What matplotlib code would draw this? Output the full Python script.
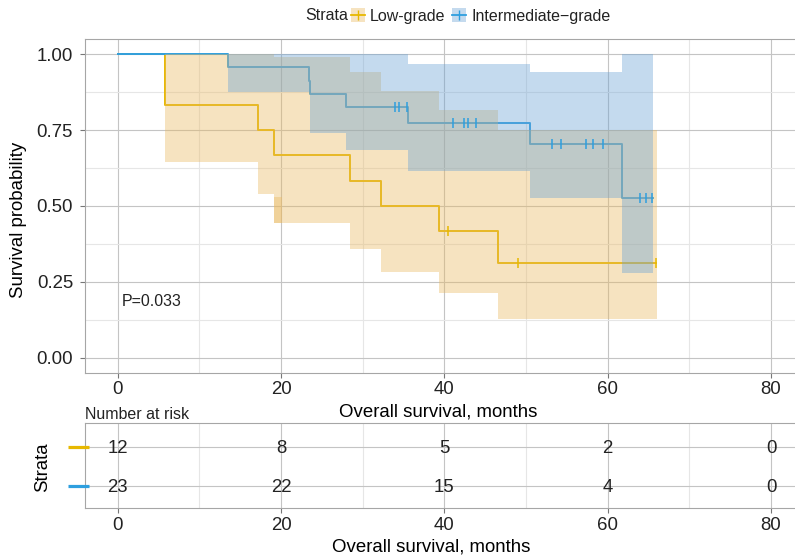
import numpy as np
import matplotlib.pyplot as plt
from matplotlib.patches import Patch
from matplotlib.lines import Line2D
from matplotlib.legend_handler import HandlerTuple
from matplotlib.transforms import blended_transform_factory

plt.rcParams['font.family'] = ['Liberation Sans', 'DejaVu Sans']
plt.rcParams['text.color'] = '#222222'

# Kaplan-Meier steps (months, survival)
low_t = [0, 5.85, 17.2, 19.1, 28.4, 32.3, 39.3, 46.6]
low_s = [1.0, 0.833, 0.75, 0.667, 0.583, 0.5, 0.417, 0.3125]
low_end = 65.9
low_cens_t = [40.4, 49.0, 65.9]

low_ci_t = [5.85, 17.2, 19.1, 28.4, 32.3, 39.3, 46.6]
low_ci_lo = [0.646, 0.539, 0.445, 0.358, 0.282, 0.212, 0.129]
low_ci_hi = [1.0, 1.0, 0.99, 0.94, 0.878, 0.815, 0.75]
low_ci_end = 66.0
# small overlapping piece of the ribbon just after 19 months
low_patch_t = [19.1, 20.1]
low_patch_lo = [0.445, 0.445]
low_patch_hi = [0.531, 0.531]

mid_t = [0, 13.45, 23.4, 23.6, 28.0, 35.5, 50.5, 61.8]
mid_s = [1.0, 0.957, 0.913, 0.870, 0.826, 0.774, 0.703, 0.527]
mid_end = 65.6
mid_cens_t = [34.0, 34.5, 35.4, 41.1, 42.4, 42.9, 43.9,
              53.2, 54.3, 57.3, 58.2, 59.4, 64.0, 64.7, 65.4]

mid_ci_t = [13.45, 23.6, 28.0, 35.5, 50.5, 61.8]
mid_ci_lo = [0.876, 0.741, 0.684, 0.616, 0.525, 0.279]
mid_ci_hi = [1.0, 1.0, 1.0, 0.969, 0.942, 1.0]
mid_ci_end = 65.5

risk_t = [0, 20, 40, 60, 80]
risk_low = [12, 8, 5, 2, 0]
risk_mid = [23, 22, 15, 4, 0]

ORANGE = '#E7B800'
BLUE = '#2E9FDF'
ORANGE_BAND = '#E9B962'
BLUE_BAND = '#6CA3D5'
BAND_A = 0.4


def step_value(t, s, at):
    idx = np.searchsorted(t, at, side='right') - 1
    return np.array(s)[idx]


def style_axes(ax):
    ax.set_xlim(-4, 84)
    ax.set_xticks([0, 20, 40, 60, 80])
    ax.set_xticks([10, 30, 50, 70], minor=True)
    ax.grid(which='major', color='#C4C4C4', lw=0.8)
    ax.grid(which='minor', color='#E6E6E6', lw=0.8)
    ax.set_axisbelow(True)
    for sp in ax.spines.values():
        sp.set_color('#A6A6A6')
        sp.set_linewidth(0.8)
    ax.tick_params(which='major', length=3.6, width=0.8, color='#777777',
                   labelsize=13.4, labelcolor='#222222')
    ax.tick_params(axis='x', pad=2.5)
    ax.tick_params(which='minor', length=0)


fig = plt.figure(figsize=(7.95, 5.58), dpi=100)
ax = fig.add_axes([85 / 795, 1 - 373 / 558, 718.7 / 795, 334 / 558])
ax2 = fig.add_axes([85 / 795, 1 - 508.3 / 558, 718.7 / 795, 85 / 558])

# survival curves (ribbons sit on top of the lines, like the original)
ax.step(low_t + [low_end], low_s + [low_s[-1]], where='post', color=ORANGE, lw=1.4, zorder=2)
ax.step(mid_t + [mid_end], mid_s + [mid_s[-1]], where='post', color=BLUE, lw=1.4, zorder=2)

ax.fill_between(low_ci_t + [low_ci_end], low_ci_lo + [low_ci_lo[-1]], low_ci_hi + [low_ci_hi[-1]],
                step='post', color=ORANGE_BAND, alpha=BAND_A, lw=0, zorder=3)
ax.fill_between(low_patch_t, low_patch_lo, low_patch_hi, step='post',
                color=ORANGE_BAND, alpha=BAND_A, lw=0, zorder=3)
ax.fill_between(mid_ci_t + [mid_ci_end], mid_ci_lo + [mid_ci_lo[-1]], mid_ci_hi + [mid_ci_hi[-1]],
                step='post', color=BLUE_BAND, alpha=BAND_A, lw=0, zorder=3)

ax.plot(low_cens_t, step_value(low_t, low_s, low_cens_t), ls='none', marker='|',
        ms=6.5, mew=1.1, color=ORANGE, zorder=4)
ax.plot(mid_cens_t, step_value(mid_t, mid_s, mid_cens_t), ls='none', marker='|',
        ms=6.5, mew=1.1, color=BLUE, zorder=4)

style_axes(ax)
ax.set_ylim(-0.05, 1.05)
ax.set_yticks([0, 0.25, 0.5, 0.75, 1.0])
ax.set_yticklabels(['0.00', '0.25', '0.50', '0.75', '1.00'])
ax.set_yticks([0.125, 0.375, 0.625, 0.875], minor=True)
ax.tick_params(axis='y', pad=5)
ax.set_xlabel('Overall survival, months', fontsize=13.4)
ax.xaxis.set_label_coords(0.491, -0.117)
ax.xaxis.label.set_va('center')
ax.set_ylabel('Survival probability', fontsize=13.4)
ax.yaxis.set_label_coords(-0.0925, 0.458)
ax.yaxis.label.set_va('center')
ax.text(0.45, 0.185, 'P=0.033', fontsize=11.5, ha='left', va='center')

# legend on top
handles = [(Patch(facecolor=ORANGE_BAND, alpha=BAND_A, edgecolor='none'),
            Line2D([], [], color=ORANGE, lw=1.3, marker='|', ms=7, mew=1)),
           (Patch(facecolor=BLUE_BAND, alpha=BAND_A, edgecolor='none'),
            Line2D([], [], color=BLUE, lw=1.3, marker='|', ms=7, mew=1))]
fig.legend(handles, ['Low-grade', 'Intermediate\u2212grade'], handler_map={tuple: HandlerTuple()},
           ncol=2, frameon=False, loc='center left', bbox_to_anchor=(351 / 795, 1 - 16 / 558),
           fontsize=11.5, handlelength=0.9, handleheight=0.9, handletextpad=0.3,
           columnspacing=0.4, borderaxespad=0, borderpad=0, numpoints=1)
fig.text(305 / 795, 1 - 16 / 558, 'Strata', ha='left', va='center', fontsize=11.5)

# number at risk table
style_axes(ax2)
ax2.set_ylim(0.42, 2.6)
ax2.set_yticks([1, 2])
ax2.tick_params(axis='y', length=0, labelleft=False)
key = blended_transform_factory(ax2.transAxes, ax2.transData)
for row, c in [(2, ORANGE), (1, BLUE)]:
    ax2.plot([-0.0237, 0.0056], [row, row], color=c, lw=2.3, transform=key,
             clip_on=False, solid_capstyle='butt', zorder=5)
for t, n in zip(risk_t, risk_low):
    ax2.text(t, 1.95, str(n), ha='center', va='center', fontsize=13.4)
for t, n in zip(risk_t, risk_mid):
    ax2.text(t, 0.95, str(n), ha='center', va='center', fontsize=13.4)
ax2.set_title('Number at risk', loc='left', fontsize=11.5, pad=3)
ax2.set_xlabel('Overall survival, months', fontsize=13.4)
ax2.xaxis.set_label_coords(0.482, -0.455)
ax2.xaxis.label.set_va('center')
ax2.set_ylabel('Strata', fontsize=13.4)
ax2.yaxis.set_label_coords(-0.0589, 0.489)
ax2.yaxis.label.set_va('center')

fig.savefig('out.png', dpi=100)
